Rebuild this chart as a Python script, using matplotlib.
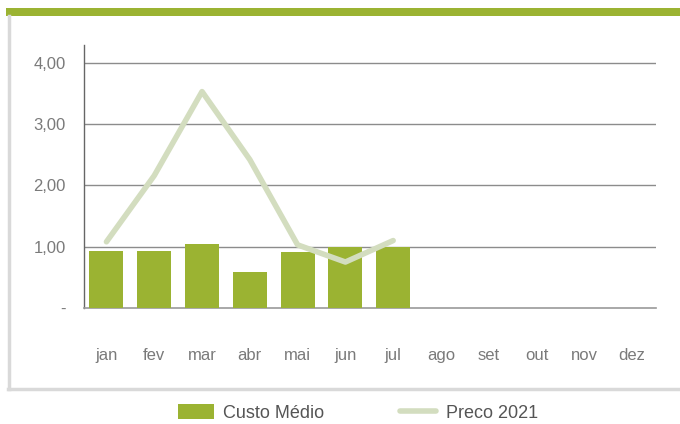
import matplotlib
matplotlib.use("Agg")
import matplotlib.pyplot as plt
from matplotlib.patches import Rectangle
from matplotlib.lines import Line2D

months = ["jan", "fev", "mar", "abr", "mai", "jun", "jul", "ago", "set", "out", "nov", "dez"]
custo_medio = [0.93, 0.93, 1.045, 0.59, 0.91, 1.0, 1.0]
preco_2021 = [1.08, 2.16, 3.53, 2.42, 1.03, 0.75, 1.10]
yticks = [0, 1, 2, 3, 4]
ytick_labels = ["-", "1,00", "2,00", "3,00", "4,00"]

plt.rcParams["font.family"] = ["Liberation Sans", "DejaVu Sans"]

W, H = 680, 424
fig = plt.figure(figsize=(W / 100, H / 100), dpi=100)

# frame decorations
fig.patches.append(Rectangle((6 / W, 1 - 16 / H), 1, 8 / H, transform=fig.transFigure,
                             facecolor="#9bb332", edgecolor="none"))
fig.lines.append(Line2D([9 / W, 9 / W], [1 - 16 / H, 1 - 389 / H], transform=fig.transFigure,
                        color="#d9d9d9", lw=2.5))
fig.lines.append(Line2D([8 / W, 1], [1 - 389 / H, 1 - 389 / H], transform=fig.transFigure,
                        color="#d9d9d9", lw=2.5))

ax = fig.add_axes([84 / W, 1 - 308 / H, (656 - 84) / W, (308 - 45) / H])
x = list(range(len(months)))
bars = ax.bar(x[:len(custo_medio)], custo_medio, width=0.71, color="#9bb332", zorder=3,
              label="Custo Médio")
line, = ax.plot(x[:len(preco_2021)], preco_2021, color="#d3ddbf", lw=4, zorder=4,
                solid_capstyle="round", label="Preco 2021")

ax.set_xlim(-0.47, 11.5)
ax.set_ylim(0, 4.29)
ax.set_xticks(x)
ax.set_xticklabels(months)
ax.set_yticks(yticks)
ax.set_yticklabels(ytick_labels)
ax.tick_params(axis="x", length=0, pad=29, labelsize=12, labelcolor="#7a7a7a")
ax.tick_params(axis="y", length=0, pad=13, labelsize=12, labelcolor="#7a7a7a")
for v in yticks[1:]:
    ax.axhline(v, color="#8c8c8c", lw=1, zorder=1)
for s in ["top", "right"]:
    ax.spines[s].set_visible(False)
ax.spines["left"].set_color("#666666")
ax.spines["bottom"].set_color("#999999")
ax.spines["left"].set_linewidth(1)
ax.spines["bottom"].set_linewidth(1.2)

fig.legend(handles=[bars, line], loc="center", bbox_to_anchor=(358 / W, 1 - 413 / H),
           ncol=2, frameon=False, fontsize=13, handlelength=1.95, handleheight=0.85,
           columnspacing=4.2, handletextpad=0.55, labelcolor="#555555")

fig.savefig("out.png", dpi=100, facecolor="white")
